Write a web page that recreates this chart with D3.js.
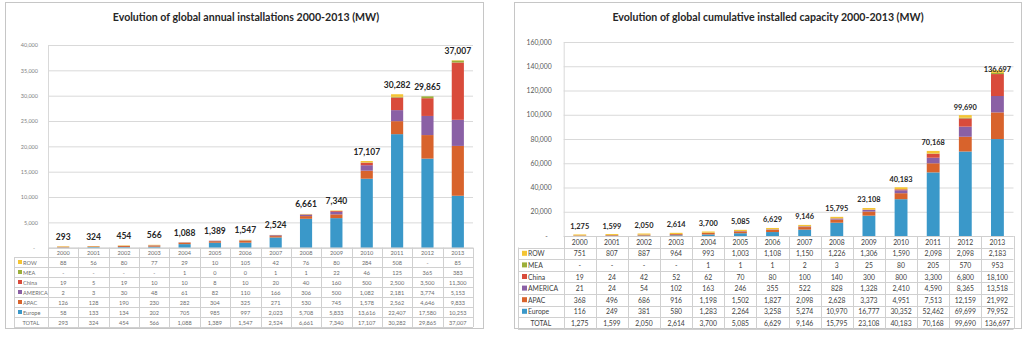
<!DOCTYPE html>
<html><head><meta charset="utf-8">
<script src="https://cdn.jsdelivr.net/npm/d3@7"></script>
<style>
body{margin:0;background:#fff}
svg{display:block}
text{font-family:Lato,"Open Sans",sans-serif}
</style>
</head><body>
<svg id="c" width="1024" height="340"></svg>
<script>
// ---------- DATA ----------
const years = ["2000","2001","2002","2003","2004","2005","2006","2007","2008","2009","2010","2011","2012","2013"];
const seriesNames = ["Europe","APAC","AMERICA","China","MEA","ROW"]; // bottom -> top
const tableOrder = ["ROW","MEA","China","AMERICA","APAC","Europe"];
const seriesColors = ["#3a98c9","#d8632c","#8a60a5","#d94b3b","#9caf3a","#f4c534"];

// Annual installations (MW); null = "-"
const annualROW     = [88,56,80,77,29,10,105,42,76,80,284,508,null,85];
const annualMEA     = [null,null,null,null,1,0,0,1,1,22,46,125,365,383];
const annualChina   = [19,5,19,10,10,8,10,20,40,160,500,2500,3500,11300];
const annualAMERICA = [2,3,30,48,61,82,110,166,306,500,1082,2181,3774,5153];
const annualAPAC    = [126,128,190,230,282,304,325,271,530,745,1578,2562,4646,9833];
const annualEurope  = [58,133,134,202,705,985,997,2023,5708,5833,13616,22407,17580,10253];
const annualTotal   = [293,324,454,566,1088,1389,1547,2524,6661,7340,17107,30282,29865,37007];

// Cumulative installed capacity (MW)
const cumROW     = [751,807,887,964,993,1003,1108,1150,1226,1306,1590,2098,2098,2183];
const cumMEA     = [null,null,null,null,1,1,1,2,3,25,80,205,570,953];
const cumChina   = [19,24,42,52,62,70,80,100,140,300,800,3300,6800,18100];
const cumAMERICA = [21,24,54,102,163,246,355,522,828,1328,2410,4590,8365,13518];
const cumAPAC    = [368,496,686,916,1198,1502,1827,2098,2628,3373,4951,7513,12159,21992];
const cumEurope  = [116,249,381,580,1283,2264,3258,5274,10970,16777,30352,52462,69699,79952];
const cumTotal   = [1275,1599,2050,2614,3700,5085,6629,9146,15795,23108,40183,70168,99690,136697];

const annualTicks = [0,5000,10000,15000,20000,25000,30000,35000,40000];
const cumTicks = [0,20000,40000,60000,80000,100000,120000,140000,160000];

// ---------- DRAW ----------
const svg = d3.select("#c");
const fmt = d3.format(",");
const cellFmt = v => (v === null ? "-" : fmt(v));

function drawChart(cfg, series, totals, ticks, title) {
  const g = svg.append("g");
  // frame
  g.append("rect").attr("x", cfg.fx).attr("y", cfg.fy).attr("width", cfg.fw).attr("height", cfg.fh)
    .attr("fill", "#fff").attr("stroke", "#c6c6c6").attr("stroke-width", 1);

  // title
  g.append("text").attr("x", cfg.titleX).attr("y", cfg.titleY).attr("text-anchor", "middle")
    .attr("font-size", cfg.titleSize).attr("font-weight", "bold").attr("fill", "#262626").text(title);

  const x = d3.scaleBand().domain(years).range([cfg.x0, cfg.x1]).paddingInner(0).paddingOuter(0);
  const y = d3.scaleLinear().domain([0, ticks[ticks.length - 1]]).range([cfg.yBot, cfg.yTop]);

  // grid + y axis
  const yAxis = d3.axisLeft(y).tickValues(ticks).tickSize(-(cfg.x1 - cfg.x0)).tickPadding(cfg.tickPad)
    .tickFormat(d => d === 0 ? "-" : fmt(d));
  const ya = g.append("g").attr("transform", `translate(${cfg.x0},0)`).call(yAxis);
  ya.select(".domain").attr("stroke", "#d9d9d9");
  ya.selectAll(".tick line").attr("stroke", "#d9d9d9");
  ya.selectAll(".tick text").attr("font-size", cfg.tickSize).attr("fill", cfg.tickColor)
    .attr("font-family", "Lato, sans-serif")
    .attr("dx", d => d === 0 ? -cfg.dashShift : 0);

  // stacked bars
  const rows = years.map((yr, i) => {
    const o = {year: yr};
    seriesNames.forEach((s, k) => o[s] = series[s][i] || 0);
    return o;
  });
  const stacked = d3.stack().keys(seriesNames)(rows);
  const bw = x.bandwidth() * cfg.barFrac;
  stacked.forEach((layer, k) => {
    g.append("g").selectAll("rect").data(layer).join("rect")
      .attr("x", d => x(d.data.year) + (x.bandwidth() - bw) / 2)
      .attr("width", bw)
      .attr("y", d => y(d[1]))
      .attr("height", d => Math.max(0, y(d[0]) - y(d[1])))
      .attr("fill", seriesColors[k]);
  });

  // total labels
  g.append("g").selectAll("text").data(totals).join("text")
    .attr("x", (d, i) => x(years[i]) + x.bandwidth() / 2)
    .attr("y", d => Math.max(y(d) - cfg.labelGap, cfg.labelMinY))
    .attr("text-anchor", "middle").attr("font-size", cfg.labelSize).attr("font-weight", "bold")
    .attr("fill", "#262626").text(d => fmt(d));

  // ---- data table ----
  const tg = g.append("g");
  const lineC = "#d0d0d0";
  const top = cfg.yBot, yr1 = top + cfg.yearRowH;
  const nRows = tableOrder.length + 1;
  const bottom = yr1 + nRows * cfg.rowH;
  // year row via axis
  const xAxis = d3.axisBottom(x).tickSize(0).tickPadding(0);
  const xa = tg.append("g").attr("transform", `translate(0,${top})`).call(xAxis);
  xa.select(".domain").remove();
  xa.selectAll(".tick text").attr("font-size", cfg.cellSize).attr("fill", cfg.cellColor)
    .attr("font-family", "Lato, sans-serif").attr("dy", null)
    .attr("y", cfg.yearRowH / 2).attr("dominant-baseline", "central");

  // horizontal lines
  tg.append("line").attr("x1", cfg.x0).attr("x2", cfg.x1).attr("y1", top + 0.5).attr("y2", top + 0.5).attr("stroke", lineC);
  d3.range(nRows + 1).forEach(r => {
    const yy = Math.round(yr1 + r * cfg.rowH) + 0.5;
    tg.append("line").attr("x1", cfg.tx).attr("x2", cfg.x1).attr("y1", yy).attr("y2", yy).attr("stroke", lineC);
  });
  // vertical lines
  tg.append("line").attr("x1", cfg.tx + 0.5).attr("x2", cfg.tx + 0.5).attr("y1", yr1).attr("y2", bottom).attr("stroke", lineC);
  d3.range(years.length + 1).forEach(c => {
    const xx = Math.round(cfg.x0 + c * x.step()) + 0.5;
    tg.append("line").attr("x1", xx).attr("x2", xx).attr("y1", top).attr("y2", bottom).attr("stroke", lineC);
  });

  // table rows
  const tableRows = tableOrder.map(n => ({name: n, vals: series[n], color: seriesColors[seriesNames.indexOf(n)]}))
    .concat([{name: "TOTAL", vals: totals, color: null}]);
  tableRows.forEach((row, r) => {
    const cy = yr1 + r * cfg.rowH + cfg.rowH / 2;
    if (row.color) {
      tg.append("rect").attr("x", cfg.tx + 4).attr("y", cy - cfg.keySize / 2).attr("width", cfg.keySize)
        .attr("height", cfg.keySize).attr("fill", row.color);
      tg.append("text").attr("x", cfg.tx + 5 + cfg.keySize).attr("y", cy).attr("dominant-baseline", "central")
        .attr("font-size", cfg.cellSize).attr("fill", cfg.cellColor).text(row.name);
    } else {
      tg.append("text").attr("x", (cfg.tx + cfg.x0) / 2).attr("y", cy).attr("text-anchor", "middle")
        .attr("dominant-baseline", "central").attr("font-size", cfg.cellSize).attr("fill", cfg.cellColor).text(row.name);
    }
    tg.append("g").selectAll("text").data(row.vals).join("text")
      .attr("x", (d, i) => x(years[i]) + x.bandwidth() / 2).attr("y", cy)
      .attr("text-anchor", "middle").attr("dominant-baseline", "central")
      .attr("font-size", cfg.cellSize).attr("fill", cfg.cellColor).text(d => cellFmt(d));
  });
}

const leftCfg = {
  fx: 5.5, fy: 2.5, fw: 478, fh: 326,
  titleX: 246, titleY: 21, titleSize: 10.6,
  x0: 48, x1: 473, yTop: 45, yBot: 247.7,
  tickPad: 10, tickSize: 5.5, tickColor: "#7f7f7f", dashShift: 3,
  barFrac: 0.4, labelGap: 6.5, labelSize: 8.5, labelMinY: 0,
  tx: 14, yearRowH: 9.3, rowH: 10, cellSize: 5.6, cellColor: "#6d6d6d", keySize: 4
};
const rightCfg = {
  fx: 514.5, fy: 2.5, fw: 507, fh: 326,
  titleX: 768, titleY: 21, titleSize: 10.6,
  x0: 563.7, x1: 1013.5, yTop: 42, yBot: 236,
  tickPad: 12, tickSize: 6.8, tickColor: "#595959", dashShift: 4,
  barFrac: 0.4, labelGap: 5.5, labelSize: 7.4, labelMinY: 72,
  tx: 518, yearRowH: 11.5, rowH: 11.6, cellSize: 6.8, cellColor: "#404040", keySize: 5
};

drawChart(leftCfg,
  {Europe: annualEurope, APAC: annualAPAC, AMERICA: annualAMERICA, China: annualChina, MEA: annualMEA, ROW: annualROW},
  annualTotal, annualTicks, "Evolution of global annual installations 2000-2013 (MW)");
drawChart(rightCfg,
  {Europe: cumEurope, APAC: cumAPAC, AMERICA: cumAMERICA, China: cumChina, MEA: cumMEA, ROW: cumROW},
  cumTotal, cumTicks, "Evolution of global cumulative installed capacity 2000-2013 (MW)");
</script>
</body></html>
